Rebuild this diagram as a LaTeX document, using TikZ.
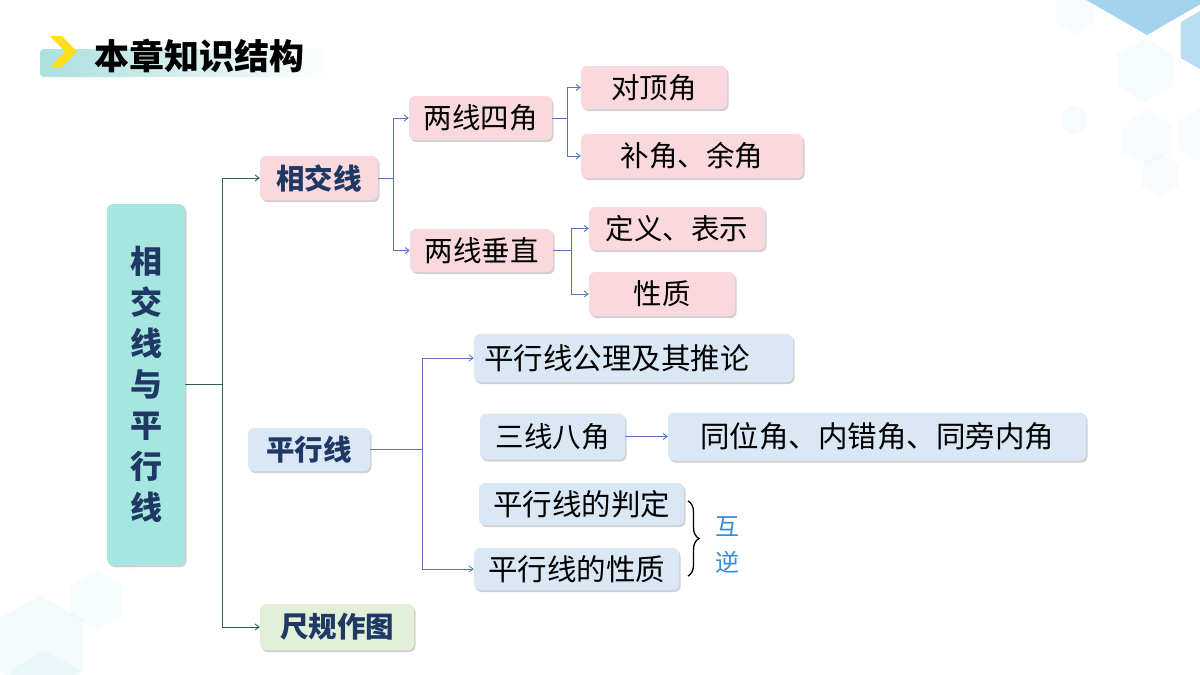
\documentclass[tikz,border=0pt]{standalone}
\usepackage{fontspec}
\usetikzlibrary{arrows.meta,shadows,decorations.pathreplacing}
\newfontfamily\cjk{Noto Sans CJK SC}
\definecolor{pinkc}{RGB}{249,216,222}
\definecolor{bluec}{RGB}{218,232,246}
\definecolor{greenc}{RGB}{226,240,217}
\definecolor{mainc}{RGB}{166,230,224}
\definecolor{navy}{RGB}{31,56,100}
\definecolor{trunkc}{RGB}{46,94,78}
\definecolor{branchc}{RGB}{84,118,184}
\definecolor{handc}{RGB}{52,140,218}
\definecolor{hexblue}{RGB}{140,200,232}
\definecolor{hexteal}{RGB}{150,215,220}
\definecolor{bandc}{RGB}{170,224,222}
\definecolor{chevc}{RGB}{255,222,30}
\begin{document}
\begin{tikzpicture}[x=1pt,y=-1pt,
  box/.style={rounded corners=6pt, inner sep=0pt, anchor=center, align=center,
    drop shadow={shadow xshift=1.5pt, shadow yshift=-2pt, opacity=0.3, fill=black!60}},
  pinkb/.style={box, fill=pinkc, minimum height=44pt, font=\cjk\fontsize{28.5}{32}\selectfont},
  blueb/.style={box, fill=bluec, minimum height=46pt, font=\cjk\fontsize{28.5}{32}\selectfont},
  wide/.style={font=\cjk\fontsize{29.5}{32}\selectfont},
  boldt/.style={text=navy, font=\cjk\bfseries\fontsize{28.5}{32}\selectfont},
  trunk/.style={draw=trunkc, line width=0.9pt},
  bl/.style={draw=branchc, line width=0.9pt},
  tip/.style={-{Straight Barb[length=4pt,width=6pt]}}
]
\useasboundingbox (0,0) rectangle (1200,675);
% background hexagons
\foreach \cx/\cy/\r/\c/\o in {1147/-35/70/hexblue/0.8, 1212/40/36/hexblue/0.6,
   1145/70/32/hexblue/0.08, 1147/138/28/hexblue/0.06, 1074/120/15/hexblue/0.08,
   1205/135/30/hexblue/0.06, 1075/12/22/hexblue/0.07, 1160/175/22/hexblue/0.05,
   40/645/50/hexteal/0.12, 97/600/30/hexteal/0.08, 45/690/40/hexteal/0.1, 125/560/14/hexteal/0.06}{
  \fill[\c, opacity=\o] (\cx,\cy) +(30:\r) -- +(90:\r) -- +(150:\r) -- +(210:\r) -- +(270:\r) -- +(330:\r) -- cycle;
}
% title
\shade[left color=bandc, right color=white, rounded corners=4pt] (40,49) rectangle (330,77);
\fill[chevc] (50,36) -- (62,36) -- (77,51.5) -- (62,67) -- (50,67) -- (65,51.5) -- cycle;
\node[anchor=center, font=\cjk\bfseries\fontsize{35}{40}\selectfont] (title) at (199,56) {本章知识结构};
% main node
\node[box, fill=mainc, minimum width=78pt, minimum height=361pt, text=navy,
  font=\cjk\bfseries\fontsize{32}{41}\selectfont] (main) at (146,384.5) {相\\交\\线\\与\\平\\行\\线};
% level 1
\node[box, fill=pinkc, minimum width=118pt, minimum height=44pt, boldt] (xj) at (319,178) {相交线};
\node[box, fill=bluec, minimum width=122pt, minimum height=43pt, boldt] (pxx) at (309,449.5) {平行线};
\node[box, fill=greenc, minimum width=154pt, minimum height=46pt, boldt] (cg) at (337,627) {尺规作图};
% level 2 pink
\node[pinkb, minimum width=143pt] (lx4) at (480.5,118) {两线四角};
\node[pinkb, minimum width=143pt, minimum height=43pt] (lxcz) at (481.5,250.5) {两线垂直};
\node[pinkb, minimum width=146pt, minimum height=43pt] (dd) at (654,87.5) {对顶角};
\node[pinkb, minimum width=222pt] (bj) at (692,156) {补角、余角};
\node[pinkb, minimum width=176pt, minimum height=43pt] (dy) at (677,228.5) {定义、表示};
\node[pinkb, minimum width=146pt] (xz) at (662,294) {性质};
% level 2 blue
\node[blueb, wide, minimum width=319pt, minimum height=48pt, text width=299pt, align=left, inner xsep=10pt] (gl) at (633.5,358) {平行线公理及其推论};
\node[blueb, minimum width=145pt] (sx) at (552.5,436.5) {三线八角};
\node[blueb, wide, minimum width=418pt, minimum height=48pt] (tw) at (877,436.5) {同位角、内错角、同旁内角};
\node[blueb, wide, minimum width=205pt, minimum height=42pt] (pd) at (581.5,504) {平行线的判定};
\node[blueb, wide, minimum width=205pt, minimum height=42pt] (xzp) at (576.5,569) {平行线的性质};
% connectors
\coordinate (t) at (222,384.5);
\draw[trunk] (main.east) -- (t);
\draw[trunk,tip] (t) |- (xj.west);
\draw[trunk,tip] (t) |- (cg.west);
\coordinate (a) at (393,178);
\draw[bl] (xj.east) -- (a);
\draw[bl,tip] (a) |- (lx4.west);
\draw[bl,tip] (a) |- (lxcz.west);
\coordinate (b) at (567,118);
\draw[bl] (lx4.east) -- (b);
\draw[bl,tip] (b) |- (dd.west);
\draw[bl,tip] (b) |- (bj.west);
\coordinate (c) at (571,250.5);
\draw[bl] (lxcz.east) -- (c);
\draw[bl,tip] (c) |- (dy.west);
\draw[bl,tip] (c) |- (xz.west);
\coordinate (d) at (422,449.5);
\draw[bl] (pxx.east) -- (d);
\draw[bl,tip] (d) |- (gl.west);
\draw[bl,tip] (d) |- (xzp.west);
\draw[bl,tip] (sx.east) -- (tw.west);
% brace
\coordinate (br1) at (688,501);
\coordinate (br2) at (688,576);
\draw[line width=1.3pt, decorate, decoration={brace, amplitude=11pt}] (br1) -- (br2);
\node[anchor=center, text=handc, align=center, font=\cjk\fontsize{24}{36}\selectfont] (hn) at (727,545) {互\\逆};
\end{tikzpicture}
\end{document}
